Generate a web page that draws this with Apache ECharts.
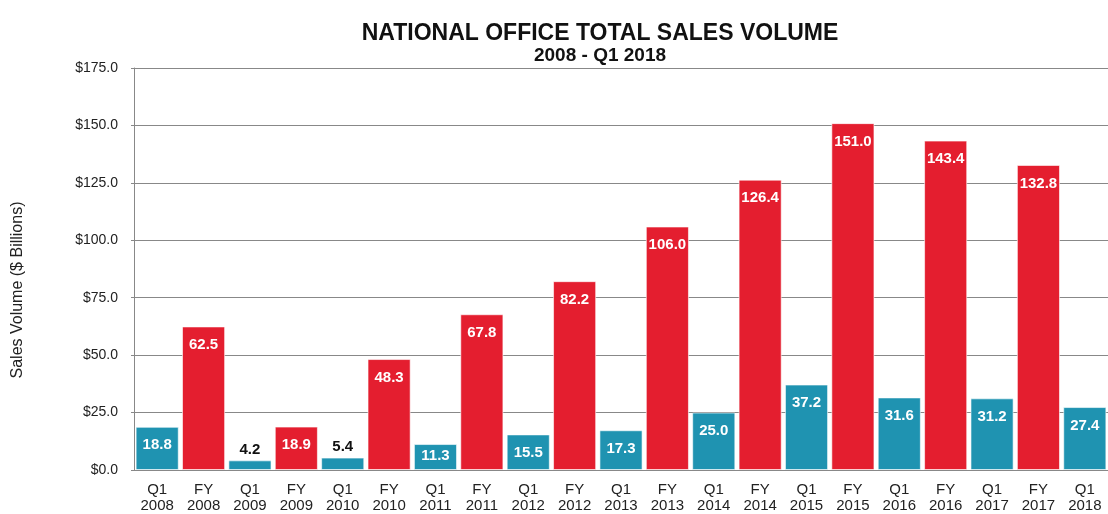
<!DOCTYPE html>
<html>
<head>
<meta charset="utf-8">
<script src="https://cdn.jsdelivr.net/npm/echarts@6/dist/echarts.min.js"></script>
<style>
  html, body { margin: 0; padding: 0; background: #fff; }
  #chart { width: 1108px; height: 514px; }
</style>
</head>
<body>
<div id="chart"></div>
<script>
// periods on the x axis (two-line labels)
var periods = ['Q1', 'FY', 'Q1', 'FY', 'Q1', 'FY', 'Q1', 'FY', 'Q1', 'FY', 'Q1',
    'FY', 'Q1', 'FY', 'Q1', 'FY', 'Q1', 'FY', 'Q1', 'FY', 'Q1'];
var years = ['2008', '2008', '2009', '2009', '2010', '2010', '2011', '2011', '2012', '2012', '2013',
    '2013', '2014', '2014', '2015', '2015', '2016', '2016', '2017', '2017', '2018'];
// sales volume, $ billions
var volumes = [18.8, 62.5, 4.2, 18.9, 5.4, 48.3, 11.3, 67.8, 15.5, 82.2, 17.3,
    106.0, 25.0, 126.4, 37.2, 151.0, 31.6, 143.4, 31.2, 132.8, 27.4];
var yTicks = [0, 25, 50, 75, 100, 125, 150, 175];

var TEAL = '#1f93b1';
var RED = '#e41e2f';
var FONT = 'Liberation Sans';

var categories = periods.map(function (p, i) { return p + '\n' + years[i]; });

var barData = volumes.map(function (v, i) {
    var item = {
        value: v,
        itemStyle: { color: periods[i] === 'Q1' ? TEAL : RED }
    };
    // short bars get their label above, in black; mid-short ones hug the top
    if (v < 10) {
        item.label = { position: 'top', distance: 3, color: '#111' };
    } else if (v < 15) {
        item.label = { distance: 4 };
    }
    return item;
});

var chart = echarts.init(document.getElementById('chart'), null, { renderer: 'canvas' });

chart.setOption({
    backgroundColor: '#fff',
    animation: false,
    title: {
        text: 'NATIONAL OFFICE TOTAL SALES VOLUME',
        subtext: '2008 - Q1 2018',
        left: 595,
        textAlign: 'center',
        top: 17,
        itemGap: 1,
        textStyle: { fontFamily: FONT, fontWeight: 'bold', fontSize: 23, color: '#111' },
        subtextStyle: { fontFamily: FONT, fontWeight: 'bold', fontSize: 19, color: '#111' }
    },
    graphic: [{
        type: 'text',
        x: 18,
        y: 290,
        rotation: Math.PI / 2,
        style: {
            text: 'Sales Volume ($ Billions)',
            fontFamily: FONT,
            fontSize: 16,
            fill: '#222',
            textAlign: 'center',
            textVerticalAlign: 'middle'
        }
    }],
    grid: { left: 134, right: 0, top: 68, bottom: 40, containLabel: false },
    xAxis: {
        type: 'category',
        data: categories,
        axisLine: { lineStyle: { color: '#888', width: 1 } },
        axisTick: { alignWithLabel: true, length: 4, lineStyle: { color: '#888' } },
        axisLabel: {
            interval: 0, margin: 12, color: '#222', fontSize: 15, lineHeight: 16,
            fontFamily: FONT
        }
    },
    yAxis: {
        type: 'value',
        min: yTicks[0],
        max: yTicks[yTicks.length - 1],
        interval: 25,
        axisLine: { show: true, lineStyle: { color: '#888' } },
        axisTick: { show: true, length: 3, lineStyle: { color: '#888' } },
        axisLabel: {
            margin: 16, color: '#222', fontSize: 14, fontFamily: FONT,
            formatter: function (v) { return '$' + v.toFixed(1); }
        },
        splitLine: { lineStyle: { color: '#888', width: 1 } }
    },
    series: [{
        type: 'bar',
        data: barData,
        barCategoryGap: '7%',
        itemStyle: { borderColor: 'rgba(255,255,255,0.6)', borderWidth: 1 },
        label: {
            show: true,
            position: 'insideTop',
            distance: 11,
            color: '#fff',
            fontWeight: 'bold',
            fontSize: 15,
            fontFamily: FONT,
            formatter: function (p) { return p.value.toFixed(1); }
        }
    }]
});
</script>
</body>
</html>
